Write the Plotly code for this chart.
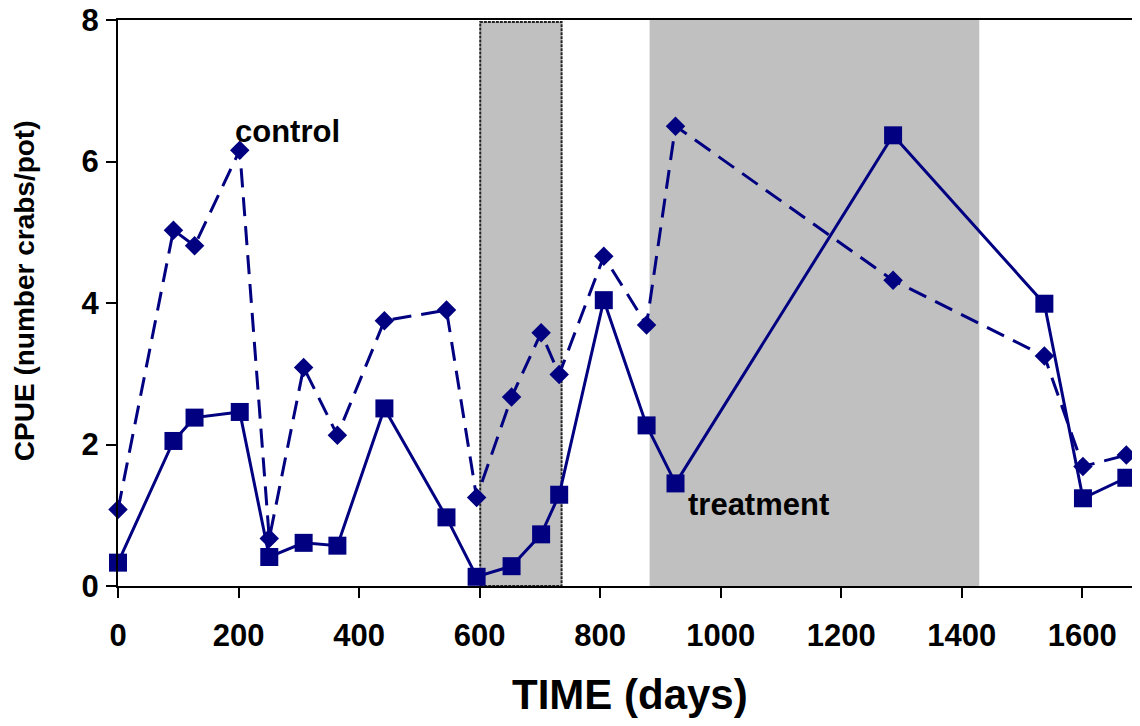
import plotly.graph_objects as go

days = [0, 92, 127, 202, 251, 308, 364, 442, 545, 595, 653, 702, 732, 806, 877, 925, 1286, 1537, 1601, 1673]
treatment = [0.33, 2.05, 2.38, 2.46, 0.41, 0.61, 0.57, 2.51, 0.97, 0.13, 0.28, 0.73, 1.29, 4.04, 2.27, 1.45, 6.37, 3.99, 1.24, 1.53]
control = [1.08, 5.03, 4.81, 6.16, 0.67, 3.09, 2.13, 3.75, 3.90, 1.25, 2.67, 3.58, 2.99, 4.66, 3.69, 6.50, 4.32, 3.25, 1.69, 1.85]

period1 = (601, 736)
period2 = (882, 1429)

x_ticks = [0, 200, 400, 600, 800, 1000, 1200, 1400, 1600]
y_ticks = [0, 2, 4, 6, 8]

NAVY = "#000080"
FONT = "Liberation Sans, Arial, sans-serif"

fig = go.Figure()

fig.add_trace(go.Scatter(
    x=days, y=control, mode="lines+markers", name="control",
    line=dict(color=NAVY, width=3, dash="19px,10px"),
    marker=dict(symbol="diamond", size=15, color=NAVY),
    cliponaxis=False,
))
fig.add_trace(go.Scatter(
    x=days, y=treatment, mode="lines+markers", name="treatment",
    line=dict(color=NAVY, width=3),
    marker=dict(symbol="square", size=18, color=NAVY),
    cliponaxis=False,
))

fig.add_shape(type="rect", x0=period1[0], x1=period1[1], y0=0, y1=7.97,
              xref="x", yref="y", layer="below",
              fillcolor="#C0C0C0", line=dict(color="#222222", width=2, dash="3px,1px"))
fig.add_shape(type="rect", x0=period2[0], x1=period2[1], y0=0, y1=8,
              xref="x", yref="y", layer="below",
              fillcolor="#C0C0C0", line=dict(width=0))

fig.add_annotation(x=191, y=6.42, xref="x", yref="y", text="control",
                   showarrow=False, xanchor="left", yanchor="middle",
                   font=dict(family=FONT, size=31, color="black", weight="bold"))
fig.add_annotation(x=942, y=1.15, xref="x", yref="y", text="treatment",
                   showarrow=False, xanchor="left", yanchor="middle",
                   font=dict(family=FONT, size=31, color="black", weight="bold"))

fig.add_annotation(x=-0.092, y=0.521, xref="paper", yref="paper",
                   text="CPUE (number crabs/pot)", textangle=-90, showarrow=False,
                   xanchor="center", yanchor="middle",
                   font=dict(family=FONT, size=28, color="black", weight="bold"))
fig.add_annotation(x=0.501, y=-0.191, xref="paper", yref="paper",
                   text="TIME (days)", showarrow=False,
                   xanchor="center", yanchor="middle",
                   font=dict(family=FONT, size=42, color="black", weight="bold"))

fig.update_layout(
    width=1132, height=718,
    margin=dict(l=110, r=1, t=12, b=140, autoexpand=False),
    paper_bgcolor="white", plot_bgcolor="white",
    showlegend=False,
    font=dict(family=FONT, color="black"),
    xaxis=dict(range=[0, 1694], tickvals=x_ticks, ticks="outside", ticklen=10,
               tickwidth=1.5, tickcolor="black", showline=True, linecolor="black",
               linewidth=1.5, mirror=True, showgrid=False, zeroline=False,
               tickfont=dict(family=FONT, size=31, color="black", weight="bold"),
               ticklabelstandoff=11, ticklabeloverflow="allow", automargin=False),
    yaxis=dict(range=[0, 8], tickvals=y_ticks, ticks="outside", ticklen=10,
               tickwidth=1.5, tickcolor="black", showline=True, linecolor="black",
               linewidth=2, showgrid=False, zeroline=False,
               tickfont=dict(family=FONT, size=31, color="black", weight="bold"),
               ticklabelstandoff=1, ticklabeloverflow="allow", automargin=False),
)

fig.write_html("out.html")
